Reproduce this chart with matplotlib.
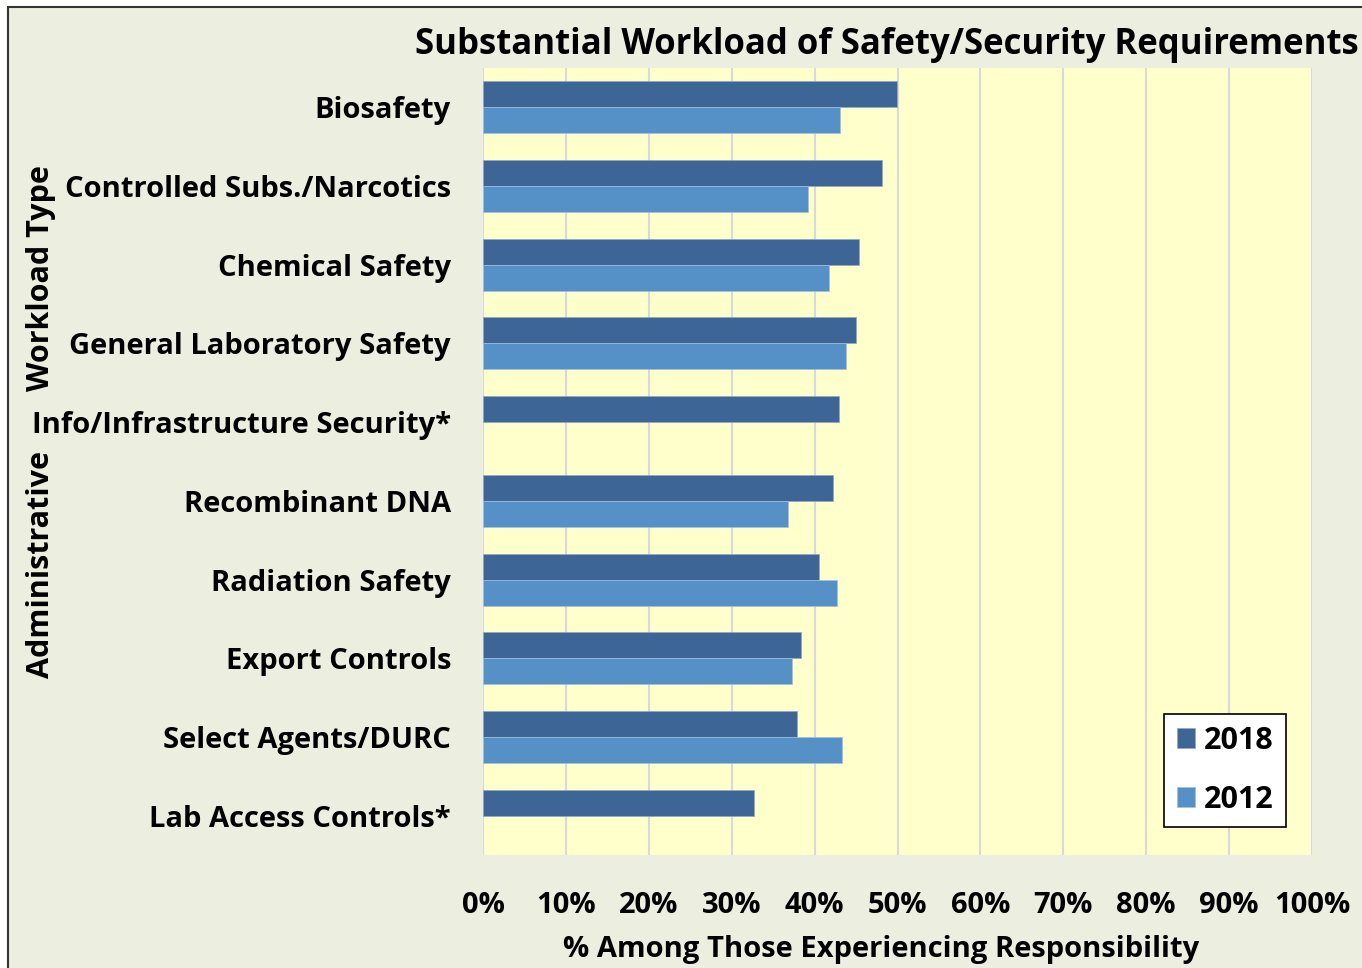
import numpy as np
import matplotlib
matplotlib.use("Agg")
import matplotlib.pyplot as plt
from matplotlib.patches import Rectangle

plt.rcParams['font.family'] = ['Open Sans', 'DejaVu Sans']
plt.rcParams['font.weight'] = 'bold'

categories = ["Biosafety", "Controlled Subs./Narcotics", "Chemical Safety",
              "General Laboratory Safety", "Info/Infrastructure Security*",
              "Recombinant DNA", "Radiation Safety", "Export Controls",
              "Select Agents/DURC", "Lab Access Controls*"]
v2018 = [49.9, 48.1, 45.4, 45.0, 42.9, 42.2, 40.5, 38.4, 37.9, 32.7]
v2012 = [43.1, 39.2, 41.7, 43.8, np.nan, 36.8, 42.7, 37.3, 43.3, np.nan]
xticks = [0, 10, 20, 30, 40, 50, 60, 70, 80, 90, 100]

W, H = 1362, 968
fig = plt.figure(figsize=(W/100, H/100), dpi=100, facecolor="white")
# panel with border behind everything
fig.patches.append(Rectangle((8/W, -0.01), 1.0, 1.01 - 7/H, transform=fig.transFigure,
                             facecolor="#ECEEDF", edgecolor="#333333", lw=1.5, zorder=-5))

ax = fig.add_axes([483/W, 1 - 855/H, (1312-483)/W, (855-68)/H])
ax.set_facecolor("#FFFFCC")

y = np.arange(len(categories))
h = 0.33
ax.barh(y - h/2, v2018, height=h, color="#3D6596", edgecolor="#8FA8C8", lw=0.5, label="2018", zorder=3)
ax.barh(y + h/2, v2012, height=h, color="#5591C7", edgecolor="#A0C0E0", lw=0.5, label="2012", zorder=3)

ax.set_ylim(len(categories) - 0.5, -0.5)
ax.set_xlim(0, 100)
ax.set_yticks(y)
ax.set_yticklabels(categories, fontsize=21, fontweight="bold")
ax.set_xticks(xticks)
ax.set_xticklabels([f"{t}%" for t in xticks], fontsize=21, fontweight="bold")
ax.tick_params(length=0)
ax.tick_params(axis="y", pad=23)
ax.tick_params(axis="x", pad=26)
ax.grid(axis="x", color="#D9D9D9", lw=1.5, zorder=0)
for s in ax.spines.values():
    s.set_visible(False)

ax.set_xlabel("% Among Those Experiencing Responsibility", fontsize=21, fontweight="bold",
              labelpad=11, x=(881-483)/(1312-483))
fig.text(887/W, 1 - 45/H, "Substantial Workload of Safety/Security Requirements",
         ha="center", va="center", fontsize=25, fontweight="bold")
# axis title is split around the "Info/Infrastructure" label
fig.text(41/W, 1 - 278/H, "Workload Type", rotation=90,
         ha="center", va="center", fontsize=22, fontweight="bold")
fig.text(41/W, 1 - 565/H, "Administrative", rotation=90,
         ha="center", va="center", fontsize=22, fontweight="bold")

leg = ax.legend(loc="lower right", bbox_to_anchor=((1286-483)/(1312-483), (855-827)/(855-68)),
                fontsize=22, frameon=True, fancybox=False, handlelength=0.6, handleheight=0.6,
                labelspacing=0.95, borderpad=0.4, handletextpad=0.3, borderaxespad=0)
leg.get_frame().set_edgecolor("black")
leg.get_frame().set_linewidth(1.2)
leg.get_frame().set_facecolor("white")
leg.get_frame().set_alpha(1)

fig.savefig("out.png", dpi=100)
